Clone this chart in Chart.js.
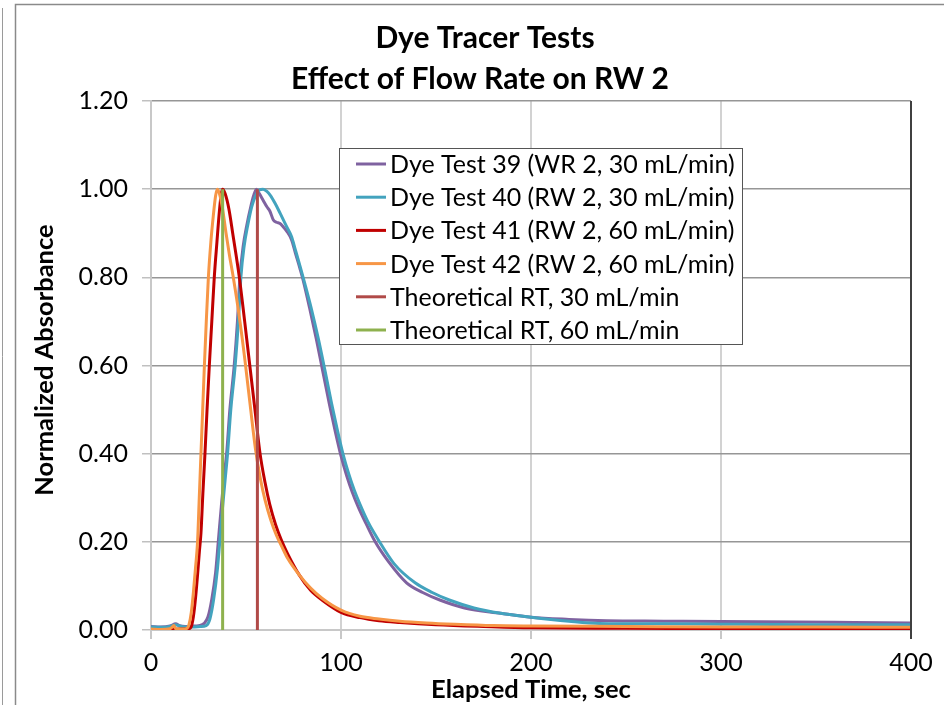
<!DOCTYPE html>
<html>
<head>
<meta charset="utf-8">
<script src="https://cdn.jsdelivr.net/npm/chart.js@4.4.1/dist/chart.umd.min.js"></script>
<style>
  html, body { margin: 0; padding: 0; background: #fff; overflow: hidden; }
  #wrap { position: relative; width: 944px; height: 705px; }
</style>
</head>
<body>
<div id="wrap"><canvas id="chart"></canvas></div>
<script>
// Elapsed time (sec) and normalized absorbance, one pair of arrays per test
const t39 = [0, 5, 10, 13, 15, 18, 22, 25, 28, 30, 32, 34, 35.4, 37, 38.5, 39.8, 41.5, 43.8, 45.5, 46.8, 48.5, 50.5, 52.5, 54, 55.5, 57, 59, 61, 62.6, 64.4, 66, 67.9, 69.5, 71.4, 74, 76, 78.4, 80, 83.5, 87, 90.5, 94, 97, 100, 103, 106, 109, 113, 118, 125, 134.5, 143, 152, 165, 184, 200, 220, 240, 270, 300, 340, 370, 400];
const v39 = [0.008, 0.007, 0.009, 0.014, 0.010, 0.008, 0.009, 0.010, 0.015, 0.030, 0.070, 0.130, 0.200, 0.280, 0.350, 0.400, 0.500, 0.600, 0.700, 0.800, 0.870, 0.920, 0.960, 0.985, 1.000, 0.990, 0.975, 0.960, 0.950, 0.930, 0.925, 0.922, 0.915, 0.905, 0.885, 0.855, 0.820, 0.795, 0.730, 0.660, 0.585, 0.510, 0.450, 0.395, 0.350, 0.312, 0.280, 0.243, 0.200, 0.155, 0.107, 0.085, 0.068, 0.050, 0.038, 0.029, 0.024, 0.021, 0.020, 0.019, 0.018, 0.017, 0.016];

const t40 = [0, 5, 10, 13, 15, 18, 22, 26, 29, 31, 33, 35, 36, 37.5, 39, 40.3, 42, 44.3, 46, 47.3, 49, 51, 53, 55, 57, 59, 61, 63, 65.3, 68, 71.4, 74, 76, 78.4, 81, 84.5, 88, 91.5, 95, 98, 101, 104, 107, 110, 114, 120, 128, 139, 148, 157, 170, 184, 200, 220, 236, 270, 300, 350, 400];
const v40 = [0.007, 0.006, 0.008, 0.012, 0.009, 0.007, 0.007, 0.008, 0.010, 0.025, 0.070, 0.140, 0.190, 0.270, 0.340, 0.400, 0.500, 0.600, 0.700, 0.800, 0.870, 0.920, 0.960, 0.985, 0.998, 1.000, 0.995, 0.985, 0.968, 0.945, 0.915, 0.892, 0.862, 0.826, 0.785, 0.727, 0.662, 0.590, 0.515, 0.455, 0.400, 0.355, 0.317, 0.285, 0.247, 0.202, 0.150, 0.107, 0.085, 0.068, 0.050, 0.038, 0.029, 0.020, 0.015, 0.014, 0.013, 0.012, 0.012];

const t41 = [0, 10, 15, 19, 21, 22.3, 23.5, 24.6, 25.5, 26.3, 27.3, 28.4, 29.5, 30.7, 32, 33.3, 34.7, 36, 37, 37.7, 39, 41, 43, 46.5, 49.3, 52, 54.7, 57.4, 60, 62.5, 65.5, 68.5, 72, 78, 84, 90, 100, 110, 120, 131, 150, 175, 200, 250, 300, 400];
const v41 = [0.001, 0.001, 0.002, 0.002, 0.006, 0.030, 0.075, 0.130, 0.180, 0.220, 0.310, 0.400, 0.500, 0.600, 0.700, 0.800, 0.880, 0.950, 0.990, 1.000, 0.990, 0.955, 0.900, 0.800, 0.700, 0.600, 0.500, 0.400, 0.335, 0.285, 0.240, 0.205, 0.172, 0.125, 0.090, 0.068, 0.040, 0.028, 0.021, 0.017, 0.012, 0.008, 0.005, 0.004, 0.003, 0.002];

const t42 = [0, 5, 10, 11, 12, 13, 17, 19, 20, 21.2, 22.3, 23.4, 24.5, 25.4, 26.3, 27.2, 28.1, 29.1, 30.2, 31.5, 32.8, 34, 34.9, 36, 37.5, 39.5, 41.3, 43.3, 46.5, 49.5, 52.2, 55, 57.5, 60, 63, 66, 69, 72, 78, 84, 90, 100, 110, 120, 131, 145, 160, 180, 200, 250, 300, 350, 400];
const v42 = [0.002, 0.001, 0.003, 0.006, 0.010, 0.003, 0.002, 0.004, 0.012, 0.040, 0.085, 0.140, 0.200, 0.300, 0.400, 0.500, 0.600, 0.700, 0.800, 0.880, 0.940, 0.985, 1.000, 0.990, 0.960, 0.900, 0.850, 0.800, 0.710, 0.610, 0.510, 0.410, 0.345, 0.295, 0.250, 0.215, 0.188, 0.162, 0.125, 0.095, 0.072, 0.045, 0.031, 0.025, 0.020, 0.016, 0.013, 0.010, 0.009, 0.008, 0.007, 0.007, 0.006];

// theoretical residence times (sec), drawn as vertical lines from 0 to 1
const rt30 = 56;
const rt60 = 37.7;

const seriesLabels = [
    'Dye Test 39 (WR 2, 30 mL/min)',
    'Dye Test 40 (RW 2, 30 mL/min)',
    'Dye Test 41 (RW 2, 60 mL/min)',
    'Dye Test 42 (RW 2, 60 mL/min)',
    'Theoretical RT, 30 mL/min',
    'Theoretical RT, 60 mL/min'
];
const seriesColors = ['#7F62A0', '#43A3BE', '#C00000', '#F79646', '#B04A48', '#8EB14E'];

const yTicks = [0, 0.2, 0.4, 0.6, 0.8, 1.0, 1.2];
const xTicks = [0, 100, 200, 300, 400];

const FONT = 'Lato';

function toPoints(ts, vs) {
    return ts.map((t, i) => ({ x: t, y: vs[i] }));
}

function curve(i, ts, vs, order) {
    return {
        label: seriesLabels[i],
        data: toPoints(ts, vs),
        borderColor: seriesColors[i],
        borderWidth: 3,
        pointRadius: 0,
        cubicInterpolationMode: 'monotone',
        order: order
    };
}

function rtLine(i, t, order) {
    return {
        label: seriesLabels[i],
        data: [{ x: t, y: 0 }, { x: t, y: 1 }],
        borderColor: seriesColors[i],
        borderWidth: 3,
        pointRadius: 0,
        tension: 0,
        order: order
    };
}

// frame, titles and the boxed legend inside the plot
const decorations = {
    id: 'decorations',
    beforeDraw(chart) {
        const ctx = chart.ctx;
        ctx.save();
        ctx.fillStyle = '#fff';
        ctx.fillRect(0, 0, chart.width, chart.height);
        ctx.strokeStyle = '#9a9a9a';
        ctx.lineWidth = 1;
        ctx.beginPath();
        ctx.moveTo(2.5, 8);
        ctx.lineTo(2.5, chart.height);
        ctx.stroke();
        ctx.strokeStyle = '#8a8a8a';
        ctx.lineWidth = 1.5;
        ctx.beginPath();
        ctx.moveTo(15.5, chart.height);
        ctx.lineTo(15.5, 4.5);
        ctx.lineTo(chart.width, 4.5);
        ctx.stroke();
        ctx.restore();
    },
    afterDraw(chart) {
        const ctx = chart.ctx;
        const area = chart.chartArea;
        ctx.save();

        // right edge of the plot area
        ctx.strokeStyle = '#404040';
        ctx.lineWidth = 2;
        ctx.beginPath();
        ctx.moveTo(area.right, area.top);
        ctx.lineTo(area.right, area.bottom + 9);
        ctx.stroke();

        ctx.fillStyle = '#000';
        ctx.textAlign = 'center';
        ctx.textBaseline = 'middle';
        ctx.font = 'bold 30px ' + FONT;
        ctx.fillText('Dye Tracer Tests', 485, 38);
        ctx.fillText('Effect of Flow Rate on RW 2', 480, 79);

        ctx.font = 'bold 25.5px ' + FONT;
        ctx.fillText('Elapsed Time, sec', (area.left + area.right) / 2, 690);
        ctx.save();
        ctx.translate(45, 360);
        ctx.rotate(-Math.PI / 2);
        ctx.fillText('Normalized Absorbance', 0, 0);
        ctx.restore();

        // legend
        const box = { x: 339.5, y: 148.5, w: 403, h: 196 };
        ctx.fillStyle = '#fff';
        ctx.fillRect(box.x, box.y, box.w, box.h);
        ctx.strokeStyle = '#555';
        ctx.lineWidth = 1;
        ctx.strokeRect(box.x, box.y, box.w, box.h);
        ctx.font = '25px ' + FONT;
        ctx.textAlign = 'left';
        seriesLabels.forEach((label, i) => {
            const y = 164 + i * 33.2;
            ctx.strokeStyle = seriesColors[i];
            ctx.lineWidth = 3;
            ctx.beginPath();
            ctx.moveTo(356, y);
            ctx.lineTo(386, y);
            ctx.stroke();
            ctx.fillStyle = '#000';
            ctx.fillText(label, 390, y + 1);
        });
        ctx.restore();
    }
};

Chart.defaults.font.family = FONT;

const config = {
    type: 'line',
    data: {
        datasets: [
            curve(0, t39, v39, 6),
            curve(1, t40, v40, 5),
            curve(2, t41, v41, 4),
            curve(3, t42, v42, 3),
            rtLine(4, rt30, 2),
            rtLine(5, rt60, 1)
        ]
    },
    options: {
        responsive: true,
        maintainAspectRatio: false,
        animation: false,
        layout: {
            padding: { left: 16, top: 101, right: 33, bottom: 0 }
        },
        scales: {
            x: {
                type: 'linear',
                min: 0,
                max: 400,
                afterFit: function(scale) { scale.height = 75; },
                afterBuildTicks: function(scale) { scale.ticks = xTicks.map(v => ({ value: v })); },
                grid: {
                    color: '#d2d2d2',
                    lineWidth: 2,
                    tickLength: 9,
                    tickColor: '#c8c8c8'
                },
                border: { color: '#c8c8c8', width: 2 },
                ticks: {
                    color: '#000',
                    padding: 9,
                    maxRotation: 0,
                    font: { size: 25 }
                }
            },
            y: {
                min: 0,
                max: 1.2,
                afterFit: function(scale) { scale.width = 135; },
                afterBuildTicks: function(scale) { scale.ticks = yTicks.map(v => ({ value: v })); },
                grid: {
                    color: '#969696',
                    lineWidth: 1.5,
                    tickLength: 9,
                    tickColor: '#c0c0c0'
                },
                border: { color: '#c8c8c8', width: 2 },
                ticks: {
                    color: '#000',
                    padding: 14,
                    font: { size: 25 },
                    callback: function(value) { return value.toFixed(2); }
                }
            }
        },
        plugins: {
            legend: { display: false },
            title: { display: false },
            tooltip: { enabled: false }
        }
    },
    plugins: [decorations]
};

new Chart(document.getElementById('chart').getContext('2d'), config);
</script>
</body>
</html>
